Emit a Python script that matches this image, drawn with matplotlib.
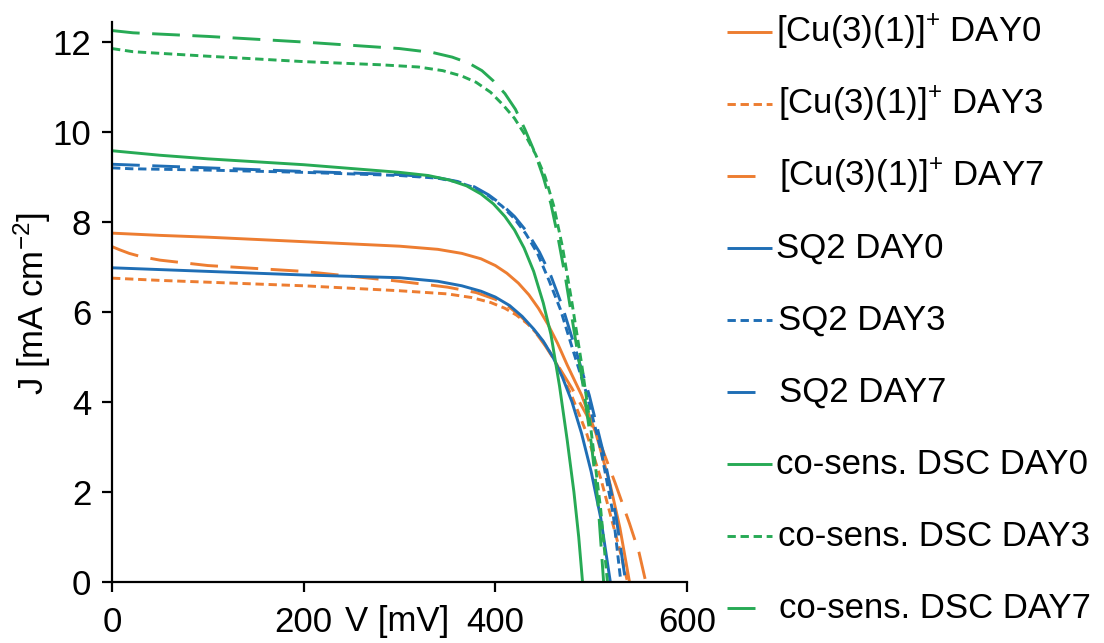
import matplotlib
matplotlib.use("Agg")
import matplotlib.pyplot as plt
from matplotlib.lines import Line2D

plt.rcParams['font.family'] = ['Liberation Sans', 'DejaVu Sans']
plt.rcParams['mathtext.default'] = 'regular'
plt.rcParams['lines.scale_dashes'] = False

# ---- data (V in mV, J in mA cm^-2) ----
cu0_v = [0, 50, 100, 200, 300, 340, 365, 385, 400, 412, 424, 435, 445, 455, 465, 475, 490, 505, 520, 530, 540]
cu0_j = [7.75, 7.7, 7.66, 7.56, 7.46, 7.39, 7.3, 7.18, 7.03, 6.86, 6.64, 6.38, 6.08, 5.72, 5.3, 4.82, 4.15, 3.3, 2.15, 1.2, 0.0]

cu3_v = [0, 50, 100, 200, 300, 350, 375, 395, 410, 422, 434, 445, 455, 465, 480, 495, 510, 520, 530, 538]
cu3_j = [6.75, 6.7, 6.66, 6.58, 6.47, 6.4, 6.32, 6.21, 6.08, 5.93, 5.73, 5.48, 5.18, 4.8, 4.12, 3.32, 2.3, 1.5, 0.7, 0.0]

cu7_v = [0, 8, 18, 30, 50, 100, 200, 300, 350, 380, 400, 415, 428, 440, 452, 465, 480, 495, 510, 525, 540, 550, 557]
cu7_j = [7.45, 7.38, 7.3, 7.23, 7.15, 7.03, 6.9, 6.68, 6.55, 6.43, 6.28, 6.1, 5.87, 5.6, 5.25, 4.82, 4.3, 3.72, 3.05, 2.2, 1.3, 0.65, 0.0]

sq0_v = [0, 100, 200, 300, 340, 365, 385, 400, 415, 428, 440, 450, 460, 470, 480, 490, 500, 510, 520]
sq0_j = [6.98, 6.9, 6.82, 6.76, 6.68, 6.58, 6.46, 6.33, 6.14, 5.9, 5.62, 5.35, 5.0, 4.55, 4.0, 3.3, 2.45, 1.42, 0.0]

sq3_v = [0, 20, 100, 200, 300, 340, 360, 378, 393, 407, 420, 432, 444, 456, 468, 480, 495, 510, 523, 531]
sq3_j = [9.2, 9.18, 9.15, 9.1, 9.03, 8.97, 8.89, 8.76, 8.58, 8.35, 8.07, 7.73, 7.3, 6.7, 6.05, 5.22, 4.2, 2.95, 1.5, 0.0]

sq7_v = [0, 100, 200, 300, 340, 360, 378, 393, 407, 420, 433, 446, 458, 470, 483, 498, 513, 526, 536]
sq7_j = [9.28, 9.2, 9.12, 9.05, 8.98, 8.9, 8.78, 8.6, 8.38, 8.12, 7.78, 7.33, 6.8, 6.12, 5.22, 4.15, 2.85, 1.45, 0.0]

co0_v = [0, 50, 100, 200, 300, 330, 352, 370, 385, 398, 410, 420, 430, 440, 450, 458, 467, 475, 482, 487, 491]
co0_j = [9.58, 9.48, 9.4, 9.27, 9.1, 9.03, 8.93, 8.8, 8.62, 8.4, 8.12, 7.82, 7.42, 6.9, 6.2, 5.5, 4.35, 3.15, 2.0, 1.0, 0.0]

co3_v = [0, 22, 100, 200, 280, 320, 345, 365, 380, 395, 408, 420, 432, 442, 452, 461, 470, 480, 490, 500, 510, 517]
co3_j = [11.85, 11.78, 11.68, 11.56, 11.49, 11.44, 11.36, 11.24, 11.1, 10.88, 10.6, 10.3, 9.9, 9.5, 9.0, 8.35, 7.45, 6.2, 4.85, 3.35, 1.6, 0.0]

co7_v = [0, 22, 100, 196, 300, 335, 355, 372, 386, 398, 410, 421, 431, 441, 450, 458, 465, 473, 482, 492, 500, 507, 513]
co7_j = [12.25, 12.2, 12.12, 12.0, 11.85, 11.76, 11.66, 11.53, 11.36, 11.13, 10.85, 10.5, 10.05, 9.55, 9.0, 8.4, 7.7, 6.78, 5.6, 4.3, 3.1, 1.8, 0.0]

labels = [r"[Cu(3)(1)]$^{+}$ DAY0", r"[Cu(3)(1)]$^{+}$ DAY3", r"[Cu(3)(1)]$^{+}$ DAY7",
          "SQ2 DAY0", "SQ2 DAY3", "SQ2 DAY7",
          "co-sens. DSC DAY0", "co-sens. DSC DAY3", "co-sens. DSC DAY7"]
x_ticks = [0, 200, 400, 600]
y_ticks = [0, 2, 4, 6, 8, 10, 12]

ORANGE = '#ED7D31'
BLUE = '#1F6EB5'
GREEN = '#27AA55'
SOLID = None
SHORT = (0, (6.0, 3.4))
LONG = (0, (20, 9))

series = [
    (cu0_v, cu0_j, ORANGE, SOLID), (cu3_v, cu3_j, ORANGE, SHORT), (cu7_v, cu7_j, ORANGE, LONG),
    (sq0_v, sq0_j, BLUE, SOLID), (sq3_v, sq3_j, BLUE, SHORT), (sq7_v, sq7_j, BLUE, LONG),
    (co0_v, co0_j, GREEN, SOLID), (co3_v, co3_j, GREEN, SHORT), (co7_v, co7_j, GREEN, LONG),
]

W, H = 1104, 643
fig = plt.figure(figsize=(W / 100, H / 100), dpi=100)
ax = fig.add_axes([112 / W, 1 - 582 / H, (687 - 112) / W, (582 - 22) / H])

LW = 2.1
FS = 25
for v, j, c, ls in series:
    if ls is None:
        ax.plot(v, j, color=c, lw=LW, solid_capstyle='butt', solid_joinstyle='round')
    else:
        ax.plot(v, j, color=c, lw=LW, linestyle=ls, dash_capstyle='butt', dash_joinstyle='round')

ax.set_xlim(0, 600)
ax.set_ylim(0, 12.44)
ax.set_xticks(x_ticks)
ax.set_yticks(y_ticks)
ax.set_xticklabels([str(t) for t in x_ticks])
ax.set_yticklabels([str(t) for t in y_ticks])
for s in ['top', 'right']:
    ax.spines[s].set_visible(False)
for s in ['left', 'bottom']:
    ax.spines[s].set_linewidth(1.6)
    ax.spines[s].set_color('black')
ax.tick_params(axis='both', direction='out', length=7, width=1.6, labelsize=FS, colors='black')
ax.tick_params(axis='x', pad=10)
ax.tick_params(axis='y', pad=8)

fig.text(397 / W, 1 - 621 / H, "V [mV]", fontsize=FS, ha='center', va='center')
fig.text(32 / W, 1 - 303 / H, r"J [mA cm$^{-2}$]", fontsize=FS, ha='center', va='center', rotation=90)

# legend (manual)
y0 = 32
dy = 72
for i, ((v, j, c, ls), lab) in enumerate(zip(series, labels)):
    yy = 1 - (y0 + i * dy) / H
    if ls is None:
        ln = Line2D([727 / W, 772 / W], [yy, yy], transform=fig.transFigure, color=c, lw=LW,
                    solid_capstyle='butt')
        tx = 776
    elif ls == SHORT:
        ln = Line2D([727 / W, 772 / W], [yy, yy], transform=fig.transFigure, color=c, lw=LW,
                    linestyle=ls, dash_capstyle='butt')
        tx = 778
    else:
        ln = Line2D([727 / W, 755 / W], [yy, yy], transform=fig.transFigure, color=c, lw=LW,
                    solid_capstyle='butt')
        tx = 779
    fig.add_artist(ln)
    fig.text(tx / W, yy, lab, fontsize=FS, ha='left', va='center')

fig.savefig("out.png", dpi=100)
